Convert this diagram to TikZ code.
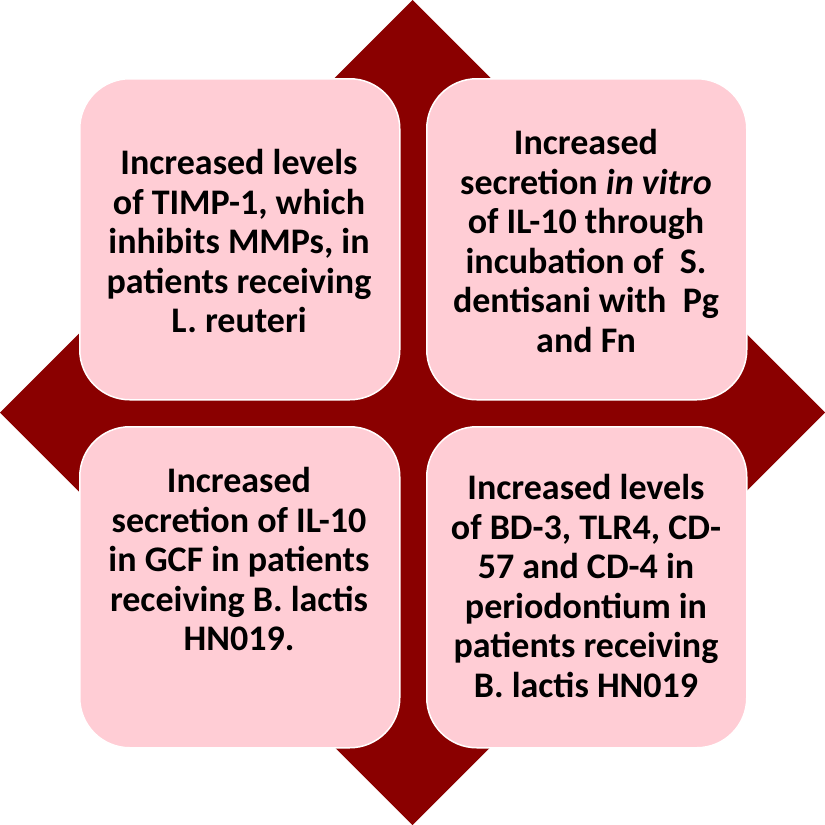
\documentclass[tikz,border=0pt]{standalone}
\usepackage{fontspec}
\setmainfont{Carlito}
\definecolor{darkred}{RGB}{138,0,0}
\definecolor{boxpink}{RGB}{255,205,213}
\tikzset{
  quad/.style={draw=white, line width=1.5pt, fill=boxpink, rounded corners=50pt,
    minimum width=320pt, minimum height=321pt, inner sep=0pt, anchor=north west},
  label/.style={align=center, inner sep=0pt, text=black,
    font=\fontsize{36}{39.5}\selectfont\bfseries}
}
\begin{document}
\begin{tikzpicture}[x=1pt,y=-1pt]
\useasboundingbox (0,0) rectangle (825,825);
\fill[darkred] (412.5,0) -- (825,412.5) -- (412.5,825) -- (0,412.5) -- cycle;
\node[quad] (tl) at (79,78) {};
\node[quad] (tr) at (426,78) {};
\node[quad] (bl) at (79,426) {};
\node[quad] (br) at (426,426) {};
\node[label] (tlt) at (239,241) {Increased levels\\of TIMP-1, which\\inhibits MMPs, in\\patients receiving\\L. reuteri};
\node[label] (trt) at (586,241) {Increased\\secretion \textit{in vitro}\\of IL-10 through\\incubation of~ S.\\dentisani with~ Pg\\and Fn};
\node[label] (blt) at (239,559) {Increased\\secretion of IL-10\\in GCF in patients\\receiving B. lactis\\HN019.};
\node[label] (brt) at (586,586) {Increased levels\\of BD-3, TLR4, CD-\\57 and CD-4 in\\periodontium in\\patients receiving\\B. lactis HN019};
\end{tikzpicture}
\end{document}
